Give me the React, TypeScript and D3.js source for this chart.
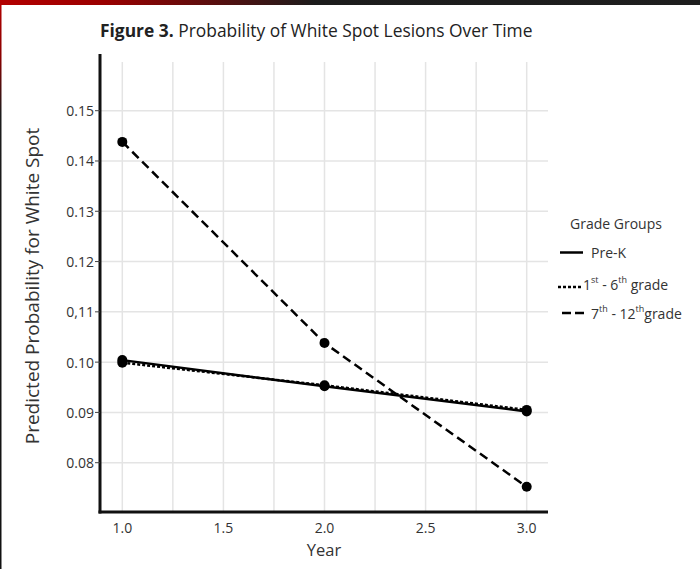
import React from "react";
import * as d3 from "d3";

const years = [1, 2, 3];
const preK = [0.1004, 0.0952, 0.0902];
const grade1to6 = [0.0999, 0.0954, 0.0905];
const grade7to12 = [0.1438, 0.1038, 0.0752];
const yTicks = [0.08, 0.09, 0.1, 0.11, 0.12, 0.13, 0.14, 0.15];
const yTickLabels = ["0.08", "0.09", "0.10", "0,11", "0.12", "0.13", "0.14", "0.15"];
const xTicks = [1.0, 1.5, 2.0, 2.5, 3.0];
const xGrid = [1.0, 1.25, 1.5, 1.75, 2.0, 2.25, 2.5, 2.75, 3.0];

const seriesList = [
  { name: "Pre-K", values: preK, dash: "none" },
  { name: "1-6", values: grade1to6, dash: "3,2" },
  { name: "7-12", values: grade7to12, dash: "9,5" },
];

const FONT = "'Open Sans', 'Noto Sans', sans-serif";

export default function App() {
  const x = d3.scaleLinear().domain([1, 3]).range([122.3, 526.7]);
  const y = d3.scaleLinear().domain([0.08, 0.15]).range([462.7, 110.7]);
  const line = d3
    .line<number>()
    .x((_, i) => x(years[i]))
    .y((d) => y(d));

  const axisLeft = 100;
  const axisBottom = 512;
  const gridTop = 62;
  const gridRight = 548;

  return (
    <svg
      width={700}
      height={569}
      style={{ position: "absolute", left: 0, top: 0, background: "#fff" }}
      fontFamily={FONT}
    >
      <defs>
        <linearGradient id="topbar" x1="0" x2="1" y1="0" y2="0">
          <stop offset="0" stopColor="#b30000" />
          <stop offset="0.15" stopColor="#9a0000" />
          <stop offset="0.45" stopColor="#1c1c1c" />
          <stop offset="1" stopColor="#1e1e1e" />
        </linearGradient>
        <linearGradient id="leftbar" x1="0" x2="0" y1="0" y2="1">
          <stop offset="0" stopColor="#b30000" />
          <stop offset="0.1" stopColor="#8a0000" />
          <stop offset="0.2" stopColor="#1c1c1c" />
          <stop offset="1" stopColor="#111" />
        </linearGradient>
      </defs>
      <rect x={0} y={0} width={700} height={569} fill="#fff" />
      <rect x={0} y={0} width={700} height={5} fill="url(#topbar)" />
      <rect x={0} y={0} width={1.5} height={569} fill="url(#leftbar)" />

      {/* Title */}
      <text x={100} y={37} fontSize={17.4} fill="#222">
        <tspan fontWeight="bold">Figure 3.</tspan>
        <tspan> Probability of White Spot Lesions Over Time</tspan>
      </text>

      {/* Grid */}
      {xGrid.map((v) => (
        <line
          key={"gx" + v}
          x1={x(v)}
          x2={x(v)}
          y1={gridTop}
          y2={axisBottom}
          stroke="#e4e4e4"
          strokeWidth={1.5}
        />
      ))}
      {yTicks.map((v) => (
        <line
          key={"gy" + v}
          x1={axisLeft}
          x2={gridRight}
          y1={y(v)}
          y2={y(v)}
          stroke="#e4e4e4"
          strokeWidth={1.5}
        />
      ))}

      {/* Axes */}
      <line x1={axisLeft} x2={axisLeft} y1={54} y2={axisBottom + 1.5} stroke="#111" strokeWidth={3} />
      <line x1={axisLeft - 1.5} x2={gridRight} y1={axisBottom} y2={axisBottom} stroke="#111" strokeWidth={3} />

      {yTicks.map((v, i) => (
        <g key={"yt" + v}>
          <line x1={axisLeft - 5} x2={axisLeft} y1={y(v)} y2={y(v)} stroke="#444" strokeWidth={1} />
          <text
            x={axisLeft - 6}
            y={y(v)}
            textAnchor="end"
            dominantBaseline="central"
            fontSize={14}
            fill="#333"
          >
            {yTickLabels[i]}
          </text>
        </g>
      ))}
      {xTicks.map((v) => (
        <text
          key={"xt" + v}
          x={x(v)}
          y={527}
          textAnchor="middle"
          dominantBaseline="central"
          fontSize={14}
          fill="#333"
        >
          {v.toFixed(1)}
        </text>
      ))}

      <text x={324} y={549} textAnchor="middle" dominantBaseline="central" fontSize={16.5} fill="#333">
        Year
      </text>
      <text
        transform={`translate(32, 286) rotate(-90)`}
        textAnchor="middle"
        dominantBaseline="central"
        fontSize={19}
        fill="#333"
      >
        Predicted Probability for White Spot
      </text>

      {/* Series */}
      {seriesList.map((s) => (
        <path
          key={s.name}
          d={line(s.values) || ""}
          fill="none"
          stroke="#000"
          strokeWidth={2.5}
          strokeDasharray={s.dash}
        />
      ))}
      {seriesList.map((s) =>
        s.values.map((v, i) => (
          <circle key={s.name + i} cx={x(years[i])} cy={y(v)} r={5} fill="#000" />
        ))
      )}

      {/* Legend */}
      <text x={570} y={223} dominantBaseline="central" fontSize={14} fill="#333">
        Grade Groups
      </text>
      <line x1={560} x2={583} y1={252.5} y2={252.5} stroke="#000" strokeWidth={2.5} />
      <text x={591} y={252.5} dominantBaseline="central" fontSize={14} fill="#333">
        Pre-K
      </text>
      <line x1={558} x2={581} y1={287} y2={287} stroke="#000" strokeWidth={2.5} strokeDasharray="3,2" />
      <text x={583} y={284} dominantBaseline="central" fontSize={14} fill="#333">
        <tspan>1</tspan>
        <tspan fontSize={9} dy={-5}>st</tspan>
        <tspan dy={5}> - 6</tspan>
        <tspan fontSize={9} dy={-5}>th</tspan>
        <tspan dy={5}> grade</tspan>
      </text>
      <line x1={562} x2={584} y1={313} y2={313} stroke="#000" strokeWidth={2.5} strokeDasharray="9,4" />
      <text x={591} y={313} dominantBaseline="central" fontSize={14} fill="#333">
        <tspan>7</tspan>
        <tspan fontSize={9} dy={-5}>th</tspan>
        <tspan dy={5}> - 12</tspan>
        <tspan fontSize={9} dy={-5}>th</tspan>
        <tspan dy={5}>grade</tspan>
      </text>
    </svg>
  );
}
